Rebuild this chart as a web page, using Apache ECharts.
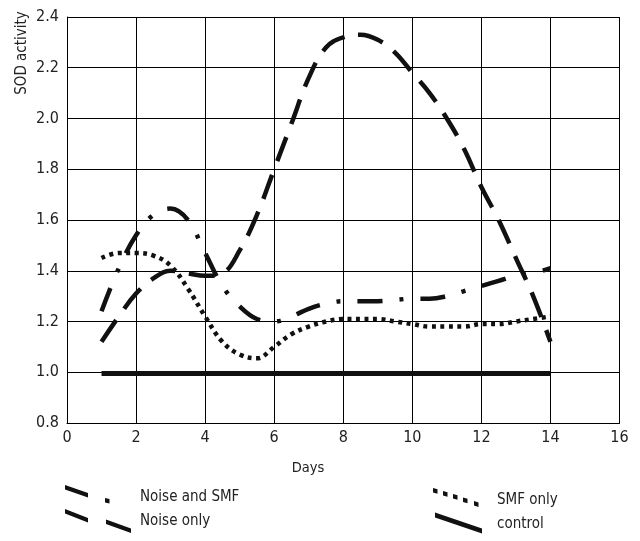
<!DOCTYPE html>
<html>
<head>
<meta charset="utf-8">
<script src="https://cdn.jsdelivr.net/npm/echarts@6/dist/echarts.min.js"></script>
<style>
  html, body { margin: 0; padding: 0; background: #fff; }
  #chart { width: 640px; height: 541px; }
</style>
</head>
<body>
<div id="chart"></div>
<script>
// days on which the curves are read
var days = [1, 1.5, 2, 2.5, 3, 3.5, 4, 4.5, 5, 5.5, 6, 6.5, 7, 7.5, 8, 8.5, 9, 9.5, 10, 10.5, 11, 11.5, 12, 12.5, 13, 13.5, 14]
var noiseAndSmf = [1.24, 1.41, 1.54, 1.62, 1.645, 1.60, 1.47, 1.34, 1.26, 1.21, 1.20, 1.22, 1.25, 1.27, 1.28, 1.28, 1.28, 1.285, 1.29, 1.29, 1.30, 1.32, 1.34, 1.36, 1.38, 1.39, 1.41]
var noiseOnly = [1.12, 1.22, 1.31, 1.37, 1.40, 1.39, 1.38, 1.39, 1.48, 1.62, 1.80, 1.98, 2.16, 2.28, 2.32, 2.33, 2.31, 2.26, 2.18, 2.10, 2.00, 1.88, 1.73, 1.60, 1.45, 1.30, 1.12]
var smfOnly = [1.45, 1.47, 1.47, 1.46, 1.42, 1.33, 1.22, 1.12, 1.07, 1.055, 1.10, 1.15, 1.18, 1.20, 1.21, 1.21, 1.21, 1.20, 1.19, 1.18, 1.18, 1.18, 1.19, 1.19, 1.20, 1.21, 1.22]
var controlDays = [1, 14]
var control = [0.995, 0.995]
var xTicks = [0, 16, 2]
var yTicks = [0.8, 2.4, 0.2]

var font = "'Liberation Sans Narrow', 'DejaVu Sans Condensed', sans-serif"

function pairs (xs, ys) {
  return xs.map(function (x, i) { return [x, ys[i]] })
}

// slanted legend icons like the printed key; tiny specks fix the box size
function icon (w, h, body) {
  return 'path://M0,0 L0.01,0 L0,0.01 Z M' + w + ',' + h + ' L' + (w - 0.01) + ',' + h + ' L' + w + ',' + (h - 0.01) + ' Z ' + body
}
var iconNoiseSmf = icon(70, 24, 'M0,0 L23,8 L23,12.6 L0,4.6 Z M40,13 L44.5,14 L44.5,18.5 L40,17.5 Z')
var iconNoise = icon(70, 24, 'M0,0 L23,9 L23,13.4 L0,4.4 Z M41,10.5 L66,19.6 L66,24 L41,14.9 Z')
var iconSmf = icon(59, 24, 'M0,0 L4.5,1.2 L4.5,5.7 L0,4.5 Z M10,3 L14.5,4.2 L14.5,8.7 L10,7.5 Z M20,6 L24.5,7.3 L24.5,11.8 L20,10.5 Z M30,9.5 L34.5,10.8 L34.5,15.3 L30,14 Z M41,13 L45.5,14.4 L45.5,18.9 L41,17.5 Z')
var iconControl = icon(59, 24, 'M2,0 L49,16 L49,21 L2,5 Z')

var charts = echarts.init(document.getElementById('chart'))
var options = {
  animation: false,
  textStyle: { fontFamily: font },
  grid: { left: 67, right: 20.5, top: 17, bottom: 118 },
  xAxis: {
    type: 'value',
    min: xTicks[0],
    max: xTicks[1],
    interval: xTicks[2],
    axisLine: { lineStyle: { color: '#000', width: 1 } },
    axisTick: { show: false },
    axisLabel: { color: '#222', fontSize: 16, margin: 7, fontFamily: font },
    splitLine: { show: true, lineStyle: { color: '#000', width: 1 } }
  },
  yAxis: {
    type: 'value',
    min: yTicks[0],
    max: yTicks[1],
    interval: yTicks[2],
    axisLine: { show: true, lineStyle: { color: '#000', width: 1 } },
    axisTick: { show: false },
    axisLabel: {
      color: '#222',
      fontSize: 16,
      margin: 8,
      fontFamily: font,
      formatter: function (v) { return v.toFixed(1) }
    },
    splitLine: { show: true, lineStyle: { color: '#000', width: 1 } }
  },
  legend: [{
    data: [
      { name: 'Noise and SMF', icon: iconNoiseSmf },
      { name: 'Noise only', icon: iconNoise }
    ],
    orient: 'vertical',
    left: 65,
    top: 485,
    padding: 0,
    itemWidth: 70,
    itemHeight: 24,
    itemGap: 0,
    selectedMode: false,
    textStyle: { color: '#222', fontSize: 15, fontFamily: font }
  }, {
    data: [
      { name: 'SMF only', icon: iconSmf },
      { name: 'control', icon: iconControl }
    ],
    orient: 'vertical',
    left: 433,
    top: 488,
    padding: 0,
    itemWidth: 59,
    itemHeight: 24,
    itemGap: 0.5,
    selectedMode: false,
    textStyle: { color: '#222', fontSize: 15, fontFamily: font }
  }],
  graphic: [{
    type: 'text',
    x: 22,
    y: 53,
    rotation: Math.PI / 2,
    style: {
      text: 'SOD activity',
      fill: '#222',
      font: '15px ' + font,
      textAlign: 'center',
      textVerticalAlign: 'middle'
    }
  }, {
    type: 'text',
    x: 308,
    y: 468,
    style: {
      text: 'Days',
      fill: '#222',
      font: '14.5px ' + font,
      textAlign: 'center',
      textVerticalAlign: 'middle'
    }
  }],
  series: [{
    name: 'Noise and SMF',
    type: 'line',
    smooth: 0.4,
    symbol: 'none',
    color: '#111',
    lineStyle: { color: '#111', width: 4.5, type: [25, 17, 4, 17], cap: 'butt' },
    data: pairs(days, noiseAndSmf)
  }, {
    name: 'Noise only',
    type: 'line',
    smooth: 0.4,
    symbol: 'none',
    color: '#111',
    lineStyle: { color: '#111', width: 4.5, type: [26, 14], cap: 'butt' },
    data: pairs(days, noiseOnly)
  }, {
    name: 'SMF only',
    type: 'line',
    smooth: 0.4,
    symbol: 'none',
    color: '#111',
    lineStyle: { color: '#111', width: 4.5, type: [4, 4.5], cap: 'butt' },
    data: pairs(days, smfOnly)
  }, {
    name: 'control',
    type: 'line',
    symbol: 'none',
    color: '#111',
    lineStyle: { color: '#111', width: 5, type: 'solid' },
    data: pairs(controlDays, control)
  }]
}
charts.setOption(options)
window.addEventListener('resize', function () {
  charts.resize()
})
</script>
</body>
</html>
